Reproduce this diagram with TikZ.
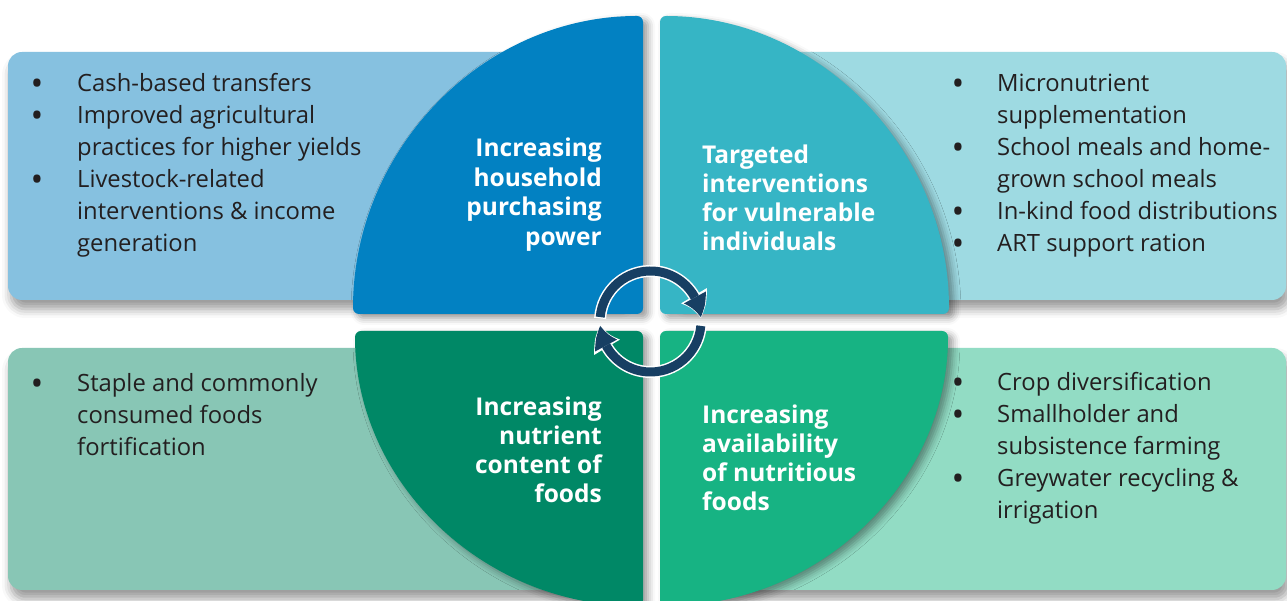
\documentclass[tikz,border=0pt]{standalone}
\usepackage{fontspec}
\setmainfont{Open Sans}
\usetikzlibrary{arrows.meta,bending,shadows.blur}
\definecolor{qTL}{HTML}{0281C2}
\definecolor{bTL}{HTML}{86C1E0}
\definecolor{qTR}{HTML}{36B5C5}
\definecolor{bTR}{HTML}{9EDAE2}
\definecolor{qBL}{HTML}{008866}
\definecolor{bBL}{HTML}{88C6B5}
\definecolor{qBR}{HTML}{17B383}
\definecolor{bBR}{HTML}{92DCC4}
\definecolor{ringc}{HTML}{173F63}
\definecolor{ink}{HTML}{231F20}
\begin{document}
\begin{tikzpicture}[x=1pt,y=1pt,
  sidebox/.style={rounded corners=14pt,
    blur shadow={shadow xshift=3pt,shadow yshift=-9pt,shadow blur radius=9pt,shadow opacity=40}},
  quad/.style={rounded corners=6pt,
    blur shadow={shadow xshift=5pt,shadow yshift=-4pt,shadow blur radius=7pt,shadow opacity=40}},
  item/.style={font=\fontsize{23.8}{32}\selectfont,text=ink,anchor=base west,inner sep=0pt},
  dot/.style={font=\fontsize{34}{34}\selectfont,text=ink,anchor=base,inner sep=0pt},
  qtext/.style={font=\fontsize{24.5}{29.5}\selectfont\bfseries,text=white,inner sep=0pt},
  ringhalo/.style={line width=12pt,draw=white,
    -{Triangle[width=30pt,length=24pt,line width=0pt,bend]}},
  ringarrow/.style={line width=9pt,draw=ringc,
    -{Triangle[width=25pt,length=21pt,line width=0pt,bend]}},
]
\useasboundingbox (0,0) rectangle (1287,601);
\clip (0,0) rectangle (1287,601);

% side boxes
\path[sidebox,fill=bTL] (8,301) rectangle (630,549);
\path[sidebox,fill=bTR] (672,301) rectangle (1286,549);
\path[sidebox,fill=bBL] (8,11) rectangle (630,253);
\path[sidebox,fill=bBR] (672,11) rectangle (1286,253);

% quadrants
\path[quad,fill=qTL] (643,287) -- (353,287)
  arc[start angle=180,end angle=90,x radius=290,y radius=298] -- cycle;
\path[quad,fill=qTR] (660,287) -- (660,585)
  arc[start angle=90,end angle=0,x radius=289,y radius=298] -- cycle;
\path[quad,fill=qBL] (643,270) -- (355,270)
  arc[start angle=180,end angle=270,x radius=288,y radius=275] -- cycle;
\path[quad,fill=qBR] (660,270) -- (660,-5)
  arc[start angle=270,end angle=360,x radius=288,y radius=275] -- cycle;

% quadrant titles
\foreach \t [count=\i] in {Increasing,household,purchasing,power}
  \node[qtext,anchor=base east] (tlq\i) at (602,{444-(\i-1)*29.5}) {\t};
\foreach \t [count=\i] in {Targeted,interventions,for vulnerable,individuals}
  \node[qtext,anchor=base west] (trq\i) at (702,{437-(\i-1)*29}) {\t};
\foreach \t [count=\i] in {Increasing,nutrient,content of,foods}
  \node[qtext,anchor=base east] (blq\i) at (602,{185-(\i-1)*29}) {\t};
\foreach \t [count=\i] in {Increasing,availability,of nutritious,foods}
  \node[qtext,anchor=base west] (brq\i) at (702,{177-(\i-1)*29}) {\t};

% top-left list
\foreach \t [count=\i] in {Cash-based transfers,Improved agricultural,practices for higher yields,Livestock-related,interventions \& income,generation}
  \node[item] (tll\i) at (77,{509-(\i-1)*32}) {\t};
\foreach \k in {1,2,4}
  \node[dot] (tlb\k) at (37,{505.5-(\k-1)*32}) {•};

% top-right list
\foreach \t [count=\i] in {Micronutrient,supplementation,School meals and home-,grown school meals,In-kind food distributions,ART support ration}
  \node[item] (trl\i) at (997,{509-(\i-1)*32}) {\t};
\foreach \k in {1,3,5,6}
  \node[dot] (trb\k) at (958,{505.5-(\k-1)*32}) {•};

% bottom-left list
\foreach \t [count=\i] in {Staple and commonly,consumed foods,fortification}
  \node[item] (bll\i) at (77,{209-(\i-1)*32}) {\t};
\node[dot] (blb1) at (37,205.5) {•};

% bottom-right list
\foreach \t [count=\i] in {Crop diversification,Smallholder and,subsistence farming,Greywater recycling \&,irrigation}
  \node[item] (brl\i) at (997,{210-(\i-1)*32}) {\t};
\foreach \k in {1,2,4}
  \node[dot] (brb\k) at (958,{206.5-(\k-1)*32}) {•};

% cycle icon
\coordinate (rc) at (650.5,279.5);
\draw[ringhalo] ([shift={(176.5:50.5)}]rc) arc[start angle=176.5,end angle=4,radius=50.5];
\draw[ringhalo] ([shift={(-3.5:50.5)}]rc) arc[start angle=-3.5,end angle=-176,radius=50.5];
\draw[ringarrow] ([shift={(175:50.5)}]rc) arc[start angle=175,end angle=5,radius=50.5];
\draw[ringarrow] ([shift={(-5:50.5)}]rc) arc[start angle=-5,end angle=-175,radius=50.5];
\end{tikzpicture}
\end{document}
